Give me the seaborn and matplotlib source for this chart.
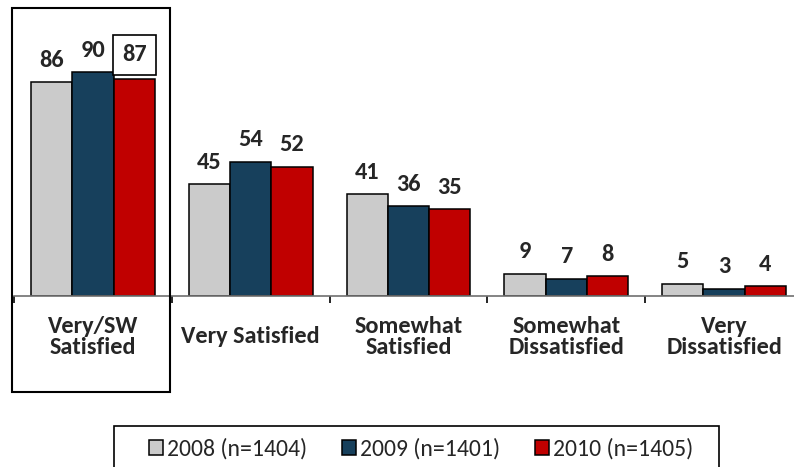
import matplotlib.pyplot as plt
import matplotlib.patches as mpatches
import seaborn as sns
import pandas as pd

categories = ["Very/SW\nSatisfied", "Very Satisfied", "Somewhat\nSatisfied",
              "Somewhat\nDissatisfied", "Very\nDissatisfied"]
series = ["2008 (n=1404)", "2009 (n=1401)", "2010 (n=1405)"]
vals_2008 = [86, 45, 41, 9, 5]
vals_2009 = [90, 54, 36, 7, 3]
vals_2010 = [87, 52, 35, 8, 4]
colors = ["#CBCBCB", "#17405C", "#C00000"]

rows = []
for s, vals in zip(series, [vals_2008, vals_2009, vals_2010]):
    for c, v in zip(categories, vals):
        rows.append({"category": c, "year": s, "value": v})
df = pd.DataFrame(rows)

sns.set_style("white")
plt.rcParams["font.family"] = ["Carlito", "DejaVu Sans"]

fig = plt.figure(figsize=(7.94, 4.67), dpi=100)
ax = fig.add_axes([14 / 794, 1 - 296 / 467, 789 / 794, 249 / 467])

sns.barplot(data=df, x="category", y="value", hue="year", palette=colors,
            saturation=1, width=0.785, gap=0, edgecolor="black",
            linewidth=1.1, errorbar=None, ax=ax)

ax.set_ylim(0, 100)
ax.set_xlim(-0.5, 4.5)
ax.set_xlabel("")
ax.set_ylabel("")
ax.set_yticks([])
for sp in ["top", "left", "right"]:
    ax.spines[sp].set_visible(False)
ax.spines["bottom"].set_color("#6f6f6f")
ax.spines["bottom"].set_linewidth(1.2)

# category labels centred below, boundary ticks as minor ticks
ax.set_xticks(range(len(categories)))
ax.set_xticklabels(categories, fontsize=17.5, fontweight="bold", linespacing=1.05)
ax.tick_params(axis="x", which="major", length=0, pad=29.5)
for lab in ax.get_xticklabels():
    lab.set_va("center")
ax.set_xticks([i - 0.5 for i in range(len(categories) + 1)], minor=True)
ax.tick_params(axis="x", which="minor", length=5, width=1.2,
               color="black", direction="out", bottom=True)

# value labels
for i, cont in enumerate(ax.containers):
    if i == 2:
        texts = ax.bar_label(cont, padding=8, fontsize=17.5, fontweight="bold")
        texts[0].set_bbox(dict(boxstyle="square,pad=0.38", fc="white",
                               ec="black", lw=1.2))
        texts[0].xyann = (0, 10)
    else:
        ax.bar_label(cont, padding=8, fontsize=17.5, fontweight="bold")

# frame around the first group
fig.patches.append(mpatches.Rectangle((12 / 794, 1 - 392 / 467), 158 / 794,
                                      384 / 467, transform=fig.transFigure,
                                      fill=False, ec="black", lw=1.5))

handles, labels = ax.get_legend_handles_labels()
ax.get_legend().remove()
leg = fig.legend(handles, labels, loc="center", bbox_to_anchor=(421 / 794, 1 - 449 / 467),
                 ncol=3, fontsize=17, frameon=False,
                 handlelength=0.6, handleheight=0.6, handletextpad=0.17,
                 columnspacing=1.48, borderpad=0.3, borderaxespad=0)
# legend box runs off the bottom edge
fig.patches.append(mpatches.Rectangle((114 / 794, 1 - 475 / 467), 605 / 794,
                                      49 / 467, transform=fig.transFigure,
                                      fill=False, ec="black", lw=1.2))

fig.savefig("out.png", dpi=100)
